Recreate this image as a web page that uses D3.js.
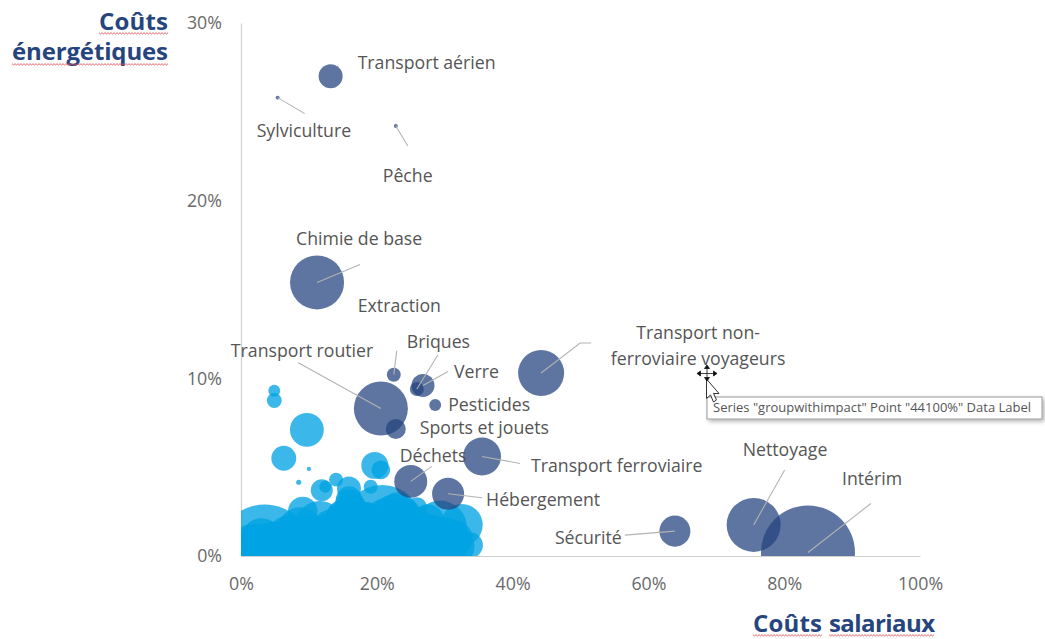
<!DOCTYPE html>
<html><head><meta charset="utf-8">
<script src="https://cdnjs.cloudflare.com/ajax/libs/d3/7.8.5/d3.min.js"></script>
<style>html,body{margin:0;padding:0;background:#fff}svg{display:block}text{font-family:"Open Sans",sans-serif}</style>
</head><body><div id="c"></div>
<script>
// Data: labelled sectors ("groupwithimpact")
const sectorNames = ["Transport aérien","Sylviculture","Pêche","Chimie de base","Extraction","Briques","Verre","Pesticides","Transport routier","Sports et jouets","Transport non-ferroviaire voyageurs","Déchets","Transport ferroviaire","Hébergement","Sécurité","Nettoyage","Intérim"];
const sectorSalary = [13.2,5.4,22.8,11.2,22.5,25.9,26.8,28.6,20.6,22.8,44.2,25.0,35.5,30.5,63.9,75.5,83.5];
const sectorEnergy = [27.0,25.8,24.2,15.4,10.2,9.4,9.6,8.5,8.3,7.15,10.3,4.2,5.6,3.5,1.4,1.75,0.2];
const sectorImpact = [6.5,0.18,0.18,33,2.2,2.2,6,1.6,33,4.5,24,12.3,16.3,11.6,10.9,33,100];
// Data: other sectors
const otherSalary = [4.9,4.9,9.7,6.3,10,8.5,19.7,20.6,11.9,12.4,14,15.9,15.9,19.1,9.1,3.5,2.5,4.6,7.2,8.7,11.6,13.8,15.3,17.5,20.8,22.7,24.9,27.1,29.3,32.5,33.7,30.8,16,23,25.9,
  1.5,3,5.5,7,9.5,11,13,14.5,16.5,18,19.5,21.5,23.5,25,26.5,28,30,31.5,2.5,6,10,12.5,15,17,19,22,24,26,28.5,30.5,32,14.8,16.2,18.5,21,24.2,27.5];
const otherEnergy = [9.3,8.75,7.1,5.5,4.9,4.15,5.1,4.85,3.7,3.9,4.3,3.8,3.2,3.9,2.5,0.2,0.45,0.8,0.9,1.5,1.75,1.2,2,1.5,1.75,2,1.5,1.2,1.6,1.75,0.6,0.9,2.9,2.75,2.75,
  0.8,1.0,0.9,1.1,1.0,1.0,1.1,0.9,1.0,1.1,0.9,1.0,1.1,0.9,1.0,1.1,0.9,1.0,0.5,0.5,0.5,0.5,0.4,0.5,0.5,0.5,0.4,0.5,0.5,0.4,0.5,2.3,2.6,2.2,2.3,2.4,2.0];
const otherImpact = [1.6,2.5,13,7,0.2,0.3,8.2,4,5.5,1.6,2.2,6.5,7.6,2.2,10,104,26,18,18,22,26,31,18,35,72,31,26,18,33,20,7.7,18,10,10,4.5,
  14,18,16,20,22,20,24,20,24,22,24,22,24,22,24,22,24,14,12,12,14,14,12,14,14,14,14,14,14,14,12,10,12,10,12,10,12];
const xTicks = [0,20,40,60,80,100];
const yTicks = [0,10,20,30];

const W=1045,H=639;
const x=d3.scaleLinear().domain([0,100]).range([241,920]);
const y=d3.scaleLinear().domain([0,30]).range([556,23]);
const r=d3.scaleSqrt().domain([0,100]).range([0,47]);
const svg=d3.select("#c").append("svg").attr("width",W).attr("height",H);
svg.append("defs").append("clipPath").attr("id","plot").append("rect").attr("x",241).attr("y",0).attr("width",W-241).attr("height",556);
const blur=svg.select("defs").append("filter").attr("id","shadow").attr("x","-5%").attr("y","-20%").attr("width","110%").attr("height","150%");
blur.append("feDropShadow").attr("dx",2).attr("dy",2).attr("stdDeviation",2).attr("flood-color","#000").attr("flood-opacity",.3);

// axes
const axX=d3.axisBottom(x).tickValues(xTicks).tickFormat(d=>d+"%").tickSize(0).tickPadding(21);
const axY=d3.axisLeft(y).tickValues(yTicks).tickFormat(d=>d+"%").tickSize(0).tickPadding(19);
for(const [ax,t] of [[axX,"translate(0,556)"],[axY,"translate(241,0)"]]){
  const g=svg.append("g").attr("transform",t).call(ax);
  g.select(".domain").attr("stroke","#cfcfcf").attr("stroke-width",1.2);
  g.selectAll("text").attr("fill","#6a6a6a").style("font-size","17.8px").style("font-family",'"Open Sans",sans-serif');
}

// bubbles
const plot=svg.append("g").attr("clip-path","url(#plot)");
plot.selectAll(".o").data(otherSalary.map((d,i)=>i)).join("circle").attr("class","o")
  .attr("cx",i=>x(otherSalary[i])).attr("cy",i=>y(otherEnergy[i])).attr("r",i=>r(otherImpact[i]))
  .attr("fill","#00a3e2").attr("fill-opacity",.77);
plot.selectAll(".s").data(sectorNames.map((d,i)=>i)).join("circle").attr("class","s")
  .attr("cx",i=>x(sectorSalary[i])).attr("cy",i=>y(sectorEnergy[i])).attr("r",i=>r(sectorImpact[i]))
  .attr("fill","#24457f").attr("fill-opacity",.74);

// label layout: text offset from the bubble centre, leader end offset from the centre
const layout={
 "Transport aérien":{tx:27,ty:-7},
 "Sylviculture":{tx:-21,ty:39.500,lx:27,ly:16},
 "Pêche":{tx:-13,ty:56,lx:12,ly:20},
 "Chimie de base":{tx:-21,ty:-37,lx:43,ly:-18},
 "Extraction":{tx:-36,ty:-62.500,lx:3,ly:-24},
 "Briques":{tx:-10,ty:-41,lx:21,ly:-34},
 "Verre":{tx:31,ty:-7,lx:25,ly:-14},
 "Pesticides":{tx:13,ty:6.500},
 "Transport routier":{tx:-150,ty:-51.500,lx:-83,ly:-46},
 "Sports et jouets":{tx:24,ty:5},
 "Déchets":{tx:-11,ty:-19.500,lx:21,ly:-15},
 "Transport ferroviaire":{tx:49,ty:15.500,lx:38,ly:7},
 "Hébergement":{tx:38,ty:12,lx:34,ly:4},
 "Sécurité":{tx:-120,ty:12.500,lx:-50,ly:4},
 "Nettoyage":{tx:-11,ty:-68.500,lx:31,ly:-55},
 "Intérim":{tx:34,ty:-67.500,lx:63,ly:-49}
};
const lab=svg.append("g");
const lineG=lab.append("g").attr("stroke","#b3b3b3").attr("stroke-width",1.1).attr("fill","none");
sectorNames.forEach((n,i)=>{
  const cx=x(sectorSalary[i]),cy=y(sectorEnergy[i]);
  if(n.startsWith("Transport non")){
    lineG.append("path").attr("d",d3.line()([[cx,cy],[cx+39,cy-30],[cx+50,cy-30]]));
    lab.append("text").attr("x",cx+157).attr("y",cy-34.5).attr("text-anchor","middle").attr("fill","#555").style("font-size","17.7px").text("Transport non-");
    lab.append("text").attr("x",cx+157).attr("y",cy-8.5).attr("text-anchor","middle").attr("fill","#555").style("font-size","17.7px").text("ferroviaire voyageurs");
    return;
  }
  const l=layout[n];
  if(l.lx!==undefined) lineG.append("line").attr("x1",cx).attr("y1",cy).attr("x2",cx+l.lx).attr("y2",cy+l.ly);
  lab.append("text").attr("x",cx+l.tx).attr("y",cy+l.ty).attr("fill","#555").style("font-size","17.7px").text(n);
});

// axis titles with spell-check squiggles
function squiggle(x0,x1,yy){
  let p=[];for(let a=x0,k=0;a<=x1;a+=1.5,k++)p.push([a,yy+(k%2?1:-0.3)]);
  svg.append("path").attr("d",d3.line()(p)).attr("fill","none").attr("stroke","#e2555a").attr("stroke-width",.9);
}
const title=(t,xx,yy,len)=>svg.append("text").attr("x",xx).attr("y",yy).attr("textLength",len).attr("lengthAdjust","spacing").attr("fill","#26457e").style("font-size","24px").style("font-weight",700).text(t);
title("Coûts",99,30,69);title("énergétiques",12,60,156);
title("Coûts",753,632,69);title("salariaux",829,632,106);
squiggle(99,168,33);squiggle(12,168,64);squiggle(753,822,635);squiggle(829,935,635);

// tooltip and cursor
const tip=svg.append("g");
tip.append("rect").attr("x",707).attr("y",397).attr("width",335).attr("height",22).attr("fill","#fff").attr("stroke","#9a9a9a").attr("filter","url(#shadow)");
tip.append("text").attr("x",713).attr("y",412).attr("fill","#555").style("font-size","13px").style("font-family",'"Open Sans",sans-serif').text('Series "groupwithimpact" Point "44100%" Data Label');
const cur=svg.append("g");
cur.append("path").attr("d","M706.5 379L719 393.500L713.500 393.500L716.500 400L713.500 402L710.500 395L706.500 398.500Z").attr("fill","#fff").attr("stroke","#333").attr("stroke-width",1);
cur.append("path").attr("d","M707 365l-2.500 3.500h5zM707 381l-2.500 -3.500h5zM697 373.500l3.500 -2.500v5zM717 373.500l-3.500 -2.500v5zM700 373.500h14M707 367v12").attr("fill","#111").attr("stroke","#111").attr("stroke-width",.8);
</script></body></html>
